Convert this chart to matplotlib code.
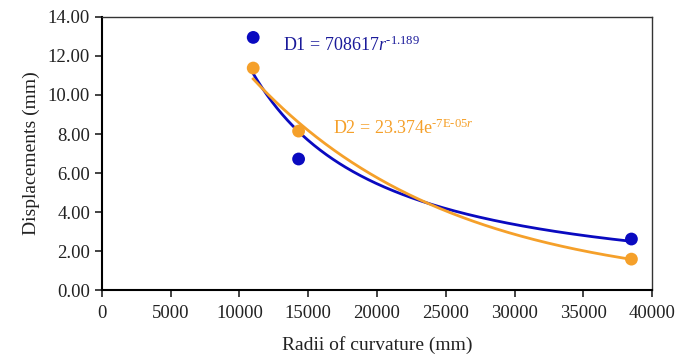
import numpy as np
import matplotlib
matplotlib.use("Agg")
import matplotlib.pyplot as plt

plt.rcParams['font.family'] = ['Liberation Serif', 'DejaVu Serif']
plt.rcParams['mathtext.fontset'] = 'custom'
plt.rcParams['mathtext.rm'] = 'Liberation Serif'
plt.rcParams['mathtext.it'] = 'Liberation Serif:italic'

radii = [11000, 14300, 38500]
d1 = [12.95, 6.72, 2.62]
d2 = [11.38, 8.15, 1.59]
d1_coef, d1_exp = 708617, -1.189
d2_coef, d2_rate = 23.374, -7e-05
xticks = [0, 5000, 10000, 15000, 20000, 25000, 30000, 35000, 40000]
yticks = [0, 2, 4, 6, 8, 10, 12, 14]

blue = '#0A0AC0'
orange = '#F5A02A'

fig = plt.figure(figsize=(6.75, 3.6), dpi=100)
ax = fig.add_axes([0.151, 0.194, 0.815, 0.759])

r = np.linspace(min(radii), max(radii), 300)
ax.plot(r, d1_coef * r ** d1_exp, color=blue, lw=2, zorder=2)
ax.plot(r, d2_coef * np.exp(d2_rate * r), color=orange, lw=2, zorder=2)
ax.scatter(radii, d1, s=85, color=blue, zorder=3, edgecolors='none')
ax.scatter(radii, d2, s=85, color=orange, zorder=3, edgecolors='none')

ax.text(13200, 12.55, r'D1 = 708617$r^{\mathrm{\text{-}1.189}}$', color='#1A1A9A',
        fontsize=13, va='center', ha='left')
ax.text(16800, 8.3, r'D2 = 23.374e$^{\mathrm{\text{-}7E\text{-}05}r}$', color=orange,
        fontsize=13, va='center', ha='left')

ax.set_xlim(0, 40000)
ax.set_ylim(0, 14)
ax.set_xticks(xticks)
ax.set_yticks(yticks)
ax.set_yticklabels([f'{v:.2f}' for v in yticks])
ax.tick_params(axis='both', labelsize=13.5, direction='out', length=5, width=1.2, colors='#222222')
ax.tick_params(axis='x', pad=6)
ax.set_xlabel('Radii of curvature (mm)', fontsize=14, color='#222222', labelpad=10)
ax.set_ylabel('Displacements (mm)', fontsize=14, color='#222222', labelpad=6)
for s in ['left', 'bottom']:
    ax.spines[s].set_linewidth(1.5)
for s in ['top', 'right']:
    ax.spines[s].set_linewidth(1.0)
    ax.spines[s].set_color('#333333')

fig.savefig('out.png', dpi=100)
